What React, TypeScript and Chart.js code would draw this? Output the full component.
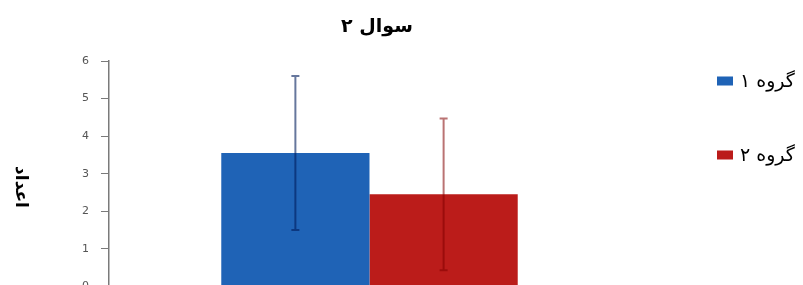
import React, { useEffect, useRef } from "react";
import { Chart, registerables } from "chart.js";

Chart.register(...registerables);

const categories: string[] = [""];
const seriesNames: string[] = ["گروه ۱", "گروه ۲"];
const means: number[] = [3.55, 2.45];
const errors: number[] = [2.05, 2.02];
const yTicks: number[] = [0, 1, 2, 3, 4, 5, 6];
const titleText = "سوال ۲";
const yTitleText = "اعداد";

const barColors = ["#1f63b6", "#bb1c1a"];
const errColors = ["rgba(0,28,92,0.6)", "rgba(130,0,0,0.55)"];

const FONT = "'DejaVu Sans', sans-serif";
const W = 803;
const H = 305;

const errorBarPlugin = {
  id: "errorBars",
  afterDatasetsDraw(chart: any) {
    const ctx = chart.ctx;
    const y = chart.scales.y;
    chart.data.datasets.forEach((ds: any, di: number) => {
      const meta = chart.getDatasetMeta(di);
      meta.data.forEach((bar: any, i: number) => {
        const v = ds.data[i];
        const e = ds.errors[i];
        const x = bar.x;
        const yTop = y.getPixelForValue(v + e);
        const yBot = y.getPixelForValue(v - e);
        ctx.save();
        ctx.strokeStyle = ds.errorColor;
        ctx.lineWidth = 2;
        ctx.beginPath();
        ctx.moveTo(x, yTop);
        ctx.lineTo(x, yBot);
        ctx.moveTo(x - 4, yTop);
        ctx.lineTo(x + 4, yTop);
        ctx.moveTo(x - 4, yBot);
        ctx.lineTo(x + 4, yBot);
        ctx.stroke();
        ctx.restore();
      });
    });
  },
};

const customLegendPlugin = {
  id: "customLegend",
  afterDraw(chart: any) {
    const ctx = chart.ctx;
    const positions = [81, 155];
    const boxX = 717;
    chart.data.datasets.forEach((ds: any, i: number) => {
      const cy = positions[i];
      ctx.save();
      ctx.fillStyle = ds.backgroundColor;
      ctx.fillRect(boxX, cy - 4.5, 16, 9);
      ctx.fillStyle = "#000";
      ctx.font = `19px ${FONT}`;
      ctx.textBaseline = "middle";
      ctx.textAlign = "left";
      ctx.fillText(ds.label, 740, cy + 1);
      ctx.restore();
    });
  },
};

const textPlugin = {
  id: "titles",
  afterDraw(chart: any) {
    const ctx = chart.ctx;
    ctx.save();
    ctx.fillStyle = "#000";
    ctx.font = `bold 19px ${FONT}`;
    ctx.textAlign = "center";
    ctx.textBaseline = "middle";
    ctx.fillText(titleText, 377, 27);
    ctx.restore();
    ctx.save();
    ctx.translate(20, 187);
    ctx.rotate(Math.PI / 2);
    ctx.fillStyle = "#000";
    ctx.font = `bold 17px ${FONT}`;
    ctx.textAlign = "center";
    ctx.textBaseline = "middle";
    ctx.fillText(yTitleText, 0, 0);
    ctx.restore();
  },
};

export default function App() {
  const ref = useRef<HTMLCanvasElement | null>(null);
  useEffect(() => {
    if (!ref.current) return;
    const chart = new Chart(ref.current, {
      type: "bar",
      data: {
        labels: categories,
        datasets: seriesNames.map((name, i) => ({
          label: name,
          data: [means[i]],
          errors: [errors[i]],
          errorColor: errColors[i],
          backgroundColor: barColors[i],
          borderWidth: 0,
          barPercentage: 1,
          categoryPercentage: 0.569,
        })) as any,
      },
      options: {
        responsive: false,
        animation: false,
        layout: { padding: { left: 70, right: 173, top: 61, bottom: 10 } },
        plugins: {
          legend: { display: false },
          tooltip: { enabled: false },
          title: { display: false },
        },
        scales: {
          x: {
            grid: { display: false },
            border: { display: true, color: "#d4d4d4", width: 2 },
            ticks: { display: false },
          },
          y: {
            min: 0,
            max: 6,
            afterBuildTicks: (scale: any) => {
              scale.ticks = yTicks.map((v) => ({ value: v }));
            },
            grid: {
              drawOnChartArea: false,
              drawTicks: true,
              tickLength: 8,
              color: "#7a7a7a",
            },
            border: { display: true, color: "#7a7a7a", width: 1.5 },
            ticks: {
              color: "#555",
              padding: 12,
              font: { family: FONT, size: 11 },
            },
          },
        },
      },
      plugins: [errorBarPlugin, customLegendPlugin, textPlugin],
    } as any);
    return () => chart.destroy();
  }, []);
  return (
    <div style={{ position: "absolute", left: 0, top: 0, width: W, height: H, background: "#fff" }}>
      <canvas ref={ref} width={W} height={H} />
    </div>
  );
}
